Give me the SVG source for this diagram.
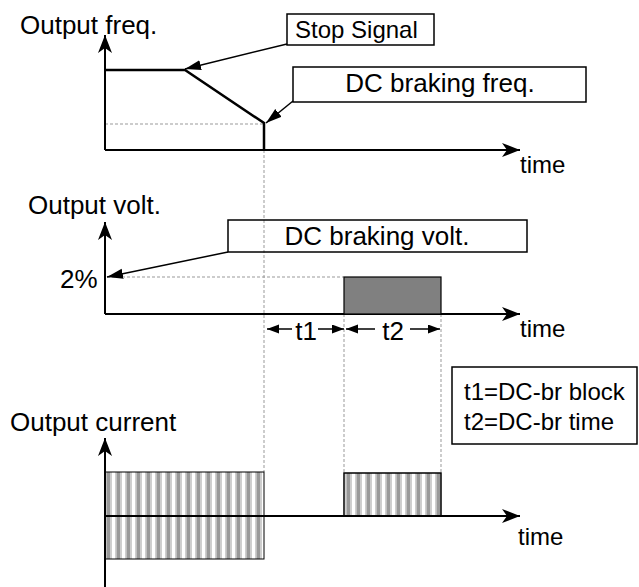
<svg xmlns="http://www.w3.org/2000/svg" width="639" height="587" viewBox="0 0 639 587">
<style>
text{font-family:"Liberation Sans",Arial,sans-serif;fill:#000}
.lbl{font-size:26px}
.sm{font-size:24px}
.ax{stroke:#000;stroke-width:2;fill:none}
.sig{stroke:#000;stroke-width:2.5;fill:none}
.dash{stroke:#999;stroke-width:1;stroke-dasharray:3,2;fill:none}
.box{stroke:#000;stroke-width:1.5;fill:none}
.call{stroke:#000;stroke-width:1.5;fill:none}
</style>
<defs>
<marker id="axh" markerUnits="userSpaceOnUse" markerWidth="20" markerHeight="14" refX="18" refY="7" orient="auto">
<path d="M0,0 L18,7 L0,14 L5,7 z" fill="#000"/>
</marker>
<marker id="cah" markerUnits="userSpaceOnUse" markerWidth="18" markerHeight="12" refX="16" refY="5" orient="auto">
<path d="M0,0 L16,5 L0,10 z" fill="#000"/>
</marker>
<marker id="sah" markerUnits="userSpaceOnUse" markerWidth="14" markerHeight="10" refX="12" refY="4.5" orient="auto">
<path d="M0,0 L12,4.5 L0,9 z" fill="#000"/>
</marker>
<pattern id="stripes" patternUnits="userSpaceOnUse" x="105" y="0" width="10" height="10">
<rect x="0" y="0" width="10" height="10" fill="#fff"/>
<rect x="0" y="0" width="1.5" height="10" fill="#cfcfcf"/>
<rect x="1.5" y="0" width="4" height="10" fill="#999"/>
<rect x="5.5" y="0" width="1.5" height="10" fill="#cfcfcf"/>
</pattern>
</defs>

<!-- guide lines -->
<g id="guides">
<line class="dash" x1="105" y1="124" x2="264" y2="124"/>
<line class="dash" x1="264" y1="150" x2="264" y2="472"/>
<line class="dash" x1="107" y1="277" x2="344" y2="277"/>
<line class="dash" x1="344" y1="314" x2="344" y2="472"/>
<line class="dash" x1="441" y1="314" x2="441" y2="472"/>
</g>

<!-- frequency chart -->
<g id="freq-chart">
<text class="lbl" x="20" y="34">Output freq.</text>
<line class="ax" x1="105" y1="150" x2="105" y2="35" marker-end="url(#axh)"/>
<line class="ax" x1="105" y1="150" x2="520" y2="150" marker-end="url(#axh)"/>
<text class="sm" x="520" y="173">time</text>
<polyline class="sig" points="105,70 185,70 264,123 264,150"/>
</g>

<!-- voltage chart -->
<g id="volt-chart">
<text class="lbl" x="28" y="214">Output volt.</text>
<line class="ax" x1="105" y1="314" x2="105" y2="222" marker-end="url(#axh)"/>
<line class="ax" x1="105" y1="314" x2="520" y2="314" marker-end="url(#axh)"/>
<text class="sm" x="520" y="337">time</text>
<text class="lbl" x="60" y="288">2%</text>
<rect x="344" y="277" width="97" height="37" fill="#808080" stroke="#000" stroke-width="1.2"/>
</g>

<!-- current chart -->
<g id="current-chart">
<text class="lbl" x="10" y="431">Output current</text>
<rect x="105" y="472" width="159" height="87" fill="url(#stripes)" stroke="#000" stroke-width="1"/>
<rect x="344" y="473" width="97" height="43" fill="url(#stripes)" stroke="#000" stroke-width="1.5"/>
<line class="ax" x1="105" y1="587" x2="105" y2="438" marker-end="url(#axh)"/>
<line class="ax" x1="105" y1="516" x2="520" y2="516" marker-end="url(#axh)"/>
<text class="sm" x="518" y="545">time</text>
</g>

<!-- callout boxes -->
<g id="stop-signal">
<rect class="box" x="287" y="14" width="147" height="31"/>
<text class="sm" x="295" y="38">Stop Signal</text>
</g>
<g id="dc-braking-freq">
<rect class="box" x="293" y="67" width="293" height="35"/>
<text class="lbl" x="440" y="92" text-anchor="middle">DC braking freq.</text>
</g>
<g id="dc-braking-volt">
<rect class="box" x="228" y="220" width="299" height="32"/>
<text class="lbl" x="377" y="245" text-anchor="middle">DC braking volt.</text>
</g>
<g id="legend">
<rect class="box" x="452" y="367" width="185" height="77"/>
<text class="sm" x="464" y="400">t1=DC-br block</text>
<text class="sm" x="464" y="430">t2=DC-br time</text>
</g>

<!-- interval labels -->
<g id="t1">
<text class="lbl" x="306" y="340" text-anchor="middle">t1</text>
</g>
<g id="t2">
<text class="lbl" x="393" y="340" text-anchor="middle">t2</text>
</g>

<!-- connectors -->
<g id="connectors">
<line class="call" x1="287" y1="44" x2="185" y2="69" marker-end="url(#cah)"/>
<line class="call" x1="293" y1="101" x2="266" y2="123" marker-end="url(#cah)"/>
<line class="call" x1="228" y1="252" x2="107" y2="277" marker-end="url(#cah)"/>
<line class="call" x1="292" y1="329" x2="267" y2="329" marker-end="url(#sah)"/>
<line class="call" x1="318" y1="329" x2="344" y2="329" marker-end="url(#sah)"/>
<line class="call" x1="375" y1="329" x2="346" y2="329" marker-end="url(#sah)"/>
<line class="call" x1="410" y1="329" x2="440" y2="329" marker-end="url(#sah)"/>
</g>
</svg>
